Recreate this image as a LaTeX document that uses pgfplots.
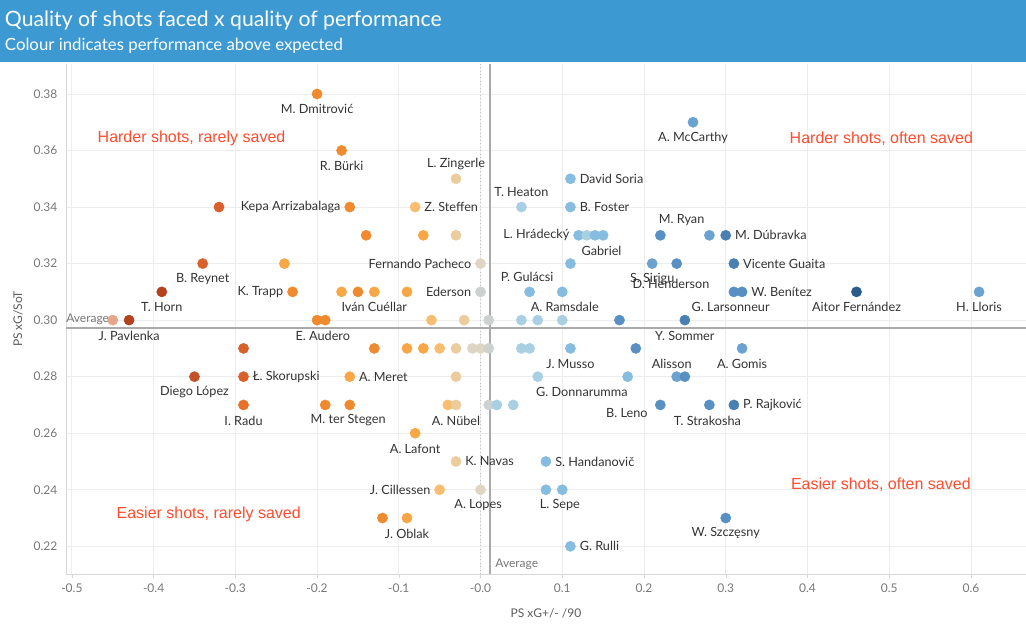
\documentclass[border=0pt]{standalone}
\usepackage{fontspec}
\setmainfont{Lato}
\newfontfamily\arialfont{Liberation Sans}
\usepackage{pgfplots}
\pgfplotsset{compat=1.18}
\usepackage{pgfplotstable}

\definecolor{banner}{HTML}{3C99D2}
\definecolor{c0}{HTML}{E7A68C}
\definecolor{c1}{HTML}{B2431F}
\definecolor{c1b}{HTML}{C4502A}
\definecolor{c2}{HTML}{D9602A}
\definecolor{c2b}{HTML}{E8712A}
\definecolor{c3}{HTML}{F08A2E}
\definecolor{c4}{HTML}{F9A646}
\definecolor{c5}{HTML}{F9BD70}
\definecolor{c6}{HTML}{ECCB9C}
\definecolor{c7}{HTML}{DDD6C4}
\definecolor{c8}{HTML}{CDD1CF}
\definecolor{c9}{HTML}{A9CFE3}
\definecolor{c10}{HTML}{86BCDF}
\definecolor{c11}{HTML}{6AA2D0}
\definecolor{c12}{HTML}{5890C3}
\definecolor{c13}{HTML}{4A7FB2}
\definecolor{c14}{HTML}{2B5D8C}
\definecolor{labgray}{HTML}{333333}
\definecolor{tickgray}{HTML}{777777}
\definecolor{gridgray}{HTML}{EDEDED}
\definecolor{avggray}{HTML}{AAAAAA}
\definecolor{quadred}{HTML}{FF4B2E}

\pgfplotstableread{
x y c
-0.20 0.38 c3
0.26 0.37 c11
-0.17 0.36 c3
-0.03 0.35 c6
0.11 0.35 c10
-0.32 0.34 c2
-0.16 0.34 c3
-0.08 0.34 c5
0.05 0.34 c9
0.11 0.34 c10
-0.14 0.33 c3
-0.07 0.33 c4
-0.03 0.33 c6
0.12 0.33 c10
0.13 0.33 c9
0.14 0.33 c10
0.15 0.33 c10
0.22 0.33 c12
0.28 0.33 c11
0.30 0.33 c13
-0.34 0.32 c2
-0.24 0.32 c4
0.00 0.32 c7
0.11 0.32 c10
0.21 0.32 c11
0.24 0.32 c12
0.31 0.32 c13
-0.39 0.31 c1
-0.23 0.31 c3
-0.17 0.31 c4
-0.15 0.31 c3
-0.13 0.31 c4
-0.09 0.31 c4
0.00 0.31 c8
0.06 0.31 c10
0.10 0.31 c10
0.31 0.31 c12
0.32 0.31 c12
0.46 0.31 c14
0.61 0.31 c11
-0.45 0.30 c0
-0.43 0.30 c1
-0.20 0.30 c3
-0.19 0.30 c3
-0.06 0.30 c5
-0.02 0.30 c6
0.01 0.30 c8
0.05 0.30 c9
0.07 0.30 c9
0.10 0.30 c9
0.17 0.30 c12
0.25 0.30 c13
-0.29 0.29 c2
-0.13 0.29 c3
-0.09 0.29 c4
-0.07 0.29 c4
-0.05 0.29 c5
-0.03 0.29 c6
-0.01 0.29 c7
0.00 0.29 c7
0.01 0.29 c8
0.05 0.29 c9
0.06 0.29 c9
0.11 0.29 c10
0.19 0.29 c12
0.32 0.29 c11
-0.35 0.28 c1b
-0.29 0.28 c2
-0.16 0.28 c4
-0.03 0.28 c6
0.07 0.28 c9
0.18 0.28 c10
0.24 0.28 c11
0.25 0.28 c12
-0.29 0.27 c2b
-0.19 0.27 c3
-0.16 0.27 c3
-0.04 0.27 c5
-0.03 0.27 c6
0.01 0.27 c8
0.02 0.27 c9
0.04 0.27 c9
0.22 0.27 c12
0.28 0.27 c12
0.31 0.27 c13
-0.08 0.26 c4
-0.03 0.25 c6
0.08 0.25 c10
-0.05 0.24 c5
0.00 0.24 c7
0.08 0.24 c10
0.10 0.24 c10
-0.12 0.23 c3
-0.09 0.23 c4
0.30 0.23 c12
0.11 0.22 c10
}\keepers

\tikzset{
  lab/.style={font=\fontsize{9.5}{11}\selectfont, text=labgray, inner sep=0pt},
  B/.style={lab, anchor=center, yshift=-11.6pt},
  A/.style={lab, anchor=center, yshift=11.2pt},
  R/.style={lab, anchor=west, xshift=6.8pt},
  L/.style={lab, anchor=east, xshift=-6.8pt},
  quad/.style={font=\arialfont\fontsize{12}{14}\selectfont, text=quadred, anchor=center, inner sep=0pt},
}

\begin{document}
\begin{tikzpicture}
\path[use as bounding box] (0,0) rectangle (769.5pt,471.75pt);
\fill[banner] (0,425.25pt) rectangle (769.5pt,471.75pt);
\node[anchor=west, text=white, inner sep=0pt, font=\fontsize{15.9}{18}\selectfont] at (3.5pt,456.5pt) {Quality of shots faced x quality of performance};
\node[anchor=west, text=white, inner sep=0pt, font=\fontsize{12.6}{14}\selectfont] at (3.5pt,437.8pt) {Colour indicates performance above expected};

\begin{axis}[
  at={(49.5pt,41.25pt)}, anchor=south west,
  width=720pt, height=382.5pt, scale only axis,
  xmin=-0.5072, xmax=0.6674, ymin=0.2102, ymax=0.3906,
  axis lines*=left,
  axis line style={draw=gridgray!80!gray, line width=0.6pt},
  xtick={-0.5,-0.4,-0.3,-0.2,-0.1,0,0.1,0.2,0.3,0.4,0.5,0.6},
  xticklabels={-0.5,-0.4,-0.3,-0.2,-0.1,-0.0,0.1,0.2,0.3,0.4,0.5,0.6},
  ytick={0.22,0.24,0.26,0.28,0.30,0.32,0.34,0.36,0.38},
  yticklabels={0.22,0.24,0.26,0.28,0.30,0.32,0.34,0.36,0.38},
  grid=major,
  grid style={draw=gridgray, line width=0.6pt},
  tick align=outside, major tick length=3pt,
  xtick style={draw=gridgray!80!gray},
  ytick style={draw=none},
  ticklabel style={font=\fontsize{9}{10}\selectfont, text=tickgray},
  xticklabel style={yshift=-1pt},
  xlabel={PS xG+/- /90}, ylabel={PS xG/SoT},
  label style={font=\fontsize{9}{10}\selectfont, text=labgray!80},
  xlabel style={at={(axis description cs:0.5,0)}, anchor=center, yshift=-29.25pt},
  ylabel style={at={(axis description cs:-0.05,0.5)}, anchor=center},
  clip=false,
]
\draw[avggray!70, dotted, line width=0.6pt] (axis cs:0,0.2102) -- (axis cs:0,0.3906);
\draw[avggray, line width=1.5pt] (axis cs:-0.5072,0.2973) -- (axis cs:0.6674,0.2973);
\draw[avggray, line width=1.5pt] (axis cs:0.0114,0.2102) -- (axis cs:0.0114,0.3906);

\addplot[scatter, only marks, scatter src=explicit symbolic,
  mark=*, mark size=3.8pt,
  scatter/classes={
    c0={fill=c0,draw=c0}, c1={fill=c1,draw=c1}, c1b={fill=c1b,draw=c1b},
    c2={fill=c2,draw=c2}, c2b={fill=c2b,draw=c2b}, c3={fill=c3,draw=c3},
    c4={fill=c4,draw=c4}, c5={fill=c5,draw=c5}, c6={fill=c6,draw=c6},
    c7={fill=c7,draw=c7}, c8={fill=c8,draw=c8}, c9={fill=c9,draw=c9},
    c10={fill=c10,draw=c10}, c11={fill=c11,draw=c11}, c12={fill=c12,draw=c12},
    c13={fill=c13,draw=c13}, c14={fill=c14,draw=c14}}
] table[x=x, y=y, meta=c] {\keepers};

% average labels
\node[lab, text=tickgray, anchor=south west, font=\fontsize{9}{10}\selectfont] at (axis cs:-0.5072,0.2982) {Average};
\node[lab, text=tickgray, anchor=south west, font=\fontsize{9}{10}\selectfont, xshift=4pt, yshift=3pt] at (axis cs:0.0114,0.2102) {Average};

% quadrant texts
\node[quad] at (axis cs:-0.3536,0.3644) {Harder shots, rarely saved};
\node[quad] at (axis cs:0.4904,0.3641) {Harder shots, often saved};
\node[quad] at (axis cs:0.4898,0.2417) {Easier shots, often saved};
\node[quad] at (axis cs:-0.3326,0.2312) {Easier shots, rarely saved};

% player labels
\node[B] at (axis cs:-0.20,0.38) {M. Dmitrović};
\node[B] at (axis cs:-0.17,0.36) {R. Bürki};
\node[A] at (axis cs:-0.03,0.35) {L. Zingerle};
\node[L] at (axis cs:-0.16,0.34) {Kepa Arrizabalaga};
\node[R] at (axis cs:-0.08,0.34) {Z. Steffen};
\node[A] at (axis cs:0.05,0.34) {T. Heaton};
\node[R] at (axis cs:0.11,0.35) {David Soria};
\node[R] at (axis cs:0.11,0.34) {B. Foster};
\node[B] at (axis cs:0.26,0.37) {A. McCarthy};
\node[L] at (axis cs:0.12,0.33) {L. Hrádecký};
\node[B] at (axis cs:0.148,0.33) {Gabriel};
\node[A] at (axis cs:0.246,0.33) {M. Ryan};
\node[R] at (axis cs:0.30,0.33) {M. Dúbravka};
\node[L] at (axis cs:0.00,0.32) {Fernando Pacheco};
\node[B] at (axis cs:-0.34,0.32) {B. Reynet};
\node[R] at (axis cs:0.31,0.32) {Vicente Guaita};
\node[B] at (axis cs:0.21,0.32) {S. Sirigu};
\node[B, yshift=-3.8pt] at (axis cs:0.233,0.32) {D. Henderson};
\node[A] at (axis cs:0.057,0.31) {P. Gulácsi};
\node[B] at (axis cs:-0.39,0.31) {T. Horn};
\node[L] at (axis cs:-0.23,0.31) {K. Trapp};
\node[B] at (axis cs:-0.13,0.31) {Iván Cuéllar};
\node[L] at (axis cs:0.00,0.31) {Ederson};
\node[B] at (axis cs:0.103,0.31) {A. Ramsdale};
\node[R] at (axis cs:0.32,0.31) {W. Benítez};
\node[B] at (axis cs:0.306,0.31) {G. Larsonneur};
\node[B] at (axis cs:0.46,0.31) {Aitor Fernández};
\node[B] at (axis cs:0.61,0.31) {H. Lloris};
\node[B] at (axis cs:-0.43,0.30) {J. Pavlenka};
\node[B] at (axis cs:-0.193,0.30) {E. Audero};
\node[B] at (axis cs:0.25,0.30) {Y. Sommer};
\node[B] at (axis cs:0.11,0.29) {J. Musso};
\node[lab, anchor=center] at (axis cs:0.234,0.2846) {Alisson};
\node[B] at (axis cs:0.32,0.29) {A. Gomis};
\node[B] at (axis cs:-0.35,0.28) {Diego López};
\node[R] at (axis cs:-0.29,0.28) {Ł. Skorupski};
\node[R] at (axis cs:-0.16,0.28) {A. Meret};
\node[B] at (axis cs:0.124,0.28) {G. Donnarumma};
\node[B] at (axis cs:-0.29,0.27) {I. Radu};
\node[B] at (axis cs:-0.162,0.27) {M. ter Stegen};
\node[B] at (axis cs:-0.03,0.27) {A. Nübel};
\node[lab, anchor=center] at (axis cs:0.179,0.2673) {B. Leno};
\node[B] at (axis cs:0.2776,0.27) {T. Strakosha};
\node[R] at (axis cs:0.31,0.27) {P. Rajković};
\node[B] at (axis cs:-0.08,0.26) {A. Lafont};
\node[R] at (axis cs:-0.03,0.25) {K. Navas};
\node[R] at (axis cs:0.08,0.25) {S. Handanovič};
\node[L] at (axis cs:-0.05,0.24) {J. Cillessen};
\node[B] at (axis cs:-0.003,0.24) {A. Lopes};
\node[B] at (axis cs:0.097,0.24) {L. Sepe};
\node[B] at (axis cs:-0.09,0.23) {J. Oblak};
\node[B] at (axis cs:0.30,0.23) {W. Szczęsny};
\node[R] at (axis cs:0.11,0.22) {G. Rulli};
\end{axis}
\end{tikzpicture}
\end{document}
